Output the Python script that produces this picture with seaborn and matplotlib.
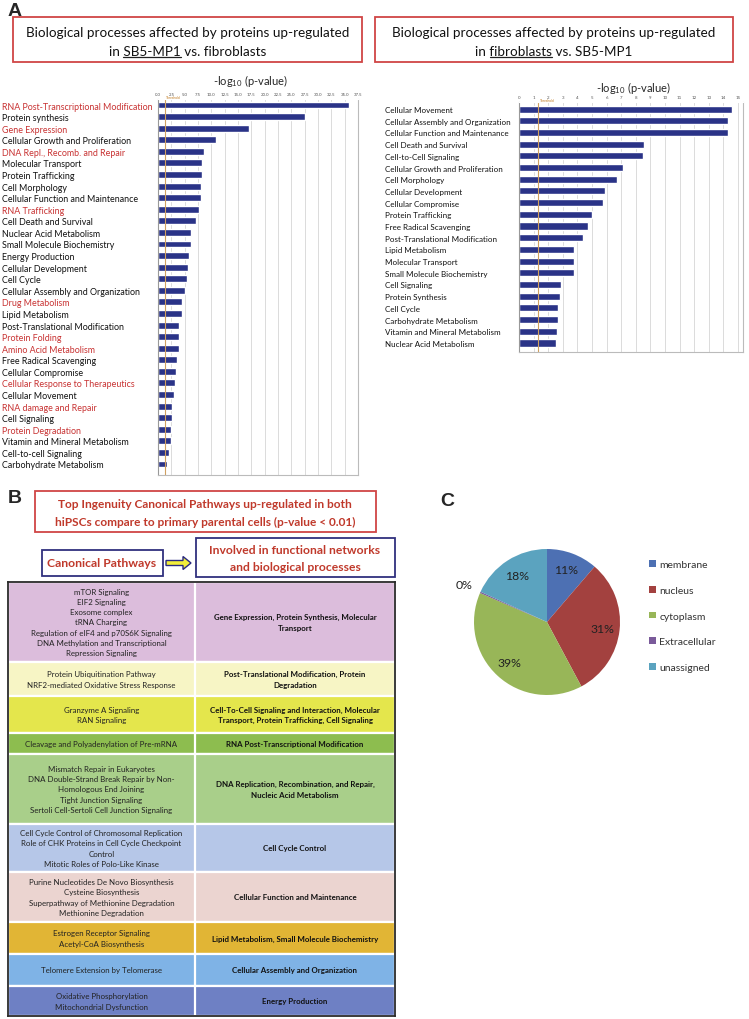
import matplotlib
matplotlib.use('Agg')
import matplotlib.pyplot as plt
import numpy as np
import pandas as pd
import seaborn as sns

# ---- data ----
up_cats = ["RNA Post-Transcriptional Modification", "Protein synthesis", "Gene Expression",
           "Cellular Growth and Proliferation", "DNA Repl., Recomb. and Repair", "Molecular Transport",
           "Protein Trafficking", "Cell Morphology", "Cellular Function and Maintenance", "RNA Trafficking",
           "Cell Death and Survival", "Nuclear Acid Metabolism", "Small Molecule Biochemistry",
           "Energy Production", "Cellular Development", "Cell Cycle", "Cellular Assembly and Organization",
           "Drug Metabolism", "Lipid Metabolism", "Post-Translational Modification", "Protein Folding",
           "Amino Acid Metabolism", "Free Radical Scavenging", "Cellular Compromise",
           "Cellular Response to Therapeutics", "Cellular Movement", "RNA damage and Repair",
           "Cell Signaling", "Protein Degradation", "Vitamin and Mineral Metabolism",
           "Cell-to-cell Signaling", "Carbohydrate Metabolism"]
up_vals = [35.75, 27.5, 17.1, 10.8, 8.7, 8.25, 8.25, 8.05, 8.05, 7.7, 7.1, 6.1, 6.1, 5.75, 5.6, 5.4,
           5.05, 4.45, 4.45, 3.95, 3.95, 3.9, 3.6, 3.3, 3.2, 2.95, 2.7, 2.55, 2.5, 2.5, 2.1, 1.75]
up_red = ["RNA Post-Transcriptional Modification", "Gene Expression", "DNA Repl., Recomb. and Repair",
          "RNA Trafficking", "Drug Metabolism", "Protein Folding", "Amino Acid Metabolism",
          "Cellular Response to Therapeutics", "RNA damage and Repair", "Protein Degradation"]

down_cats = ["Cellular Movement", "Cellular Assembly and Organization", "Cellular Function and Maintenance",
             "Cell Death and Survival", "Cell-to-Cell Signaling", "Cellular Growth and Proliferation",
             "Cell Morphology", "Cellular Development", "Cellular Compromise", "Protein Trafficking",
             "Free Radical Scavenging", "Post-Translational Modification", "Lipid Metabolism",
             "Molecular Transport", "Small Molecule Biochemistry", "Cell Signaling", "Protein Synthesis",
             "Cell Cycle", "Carbohydrate Metabolism", "Vitamin and Mineral Metabolism",
             "Nuclear Acid Metabolism"]
down_vals = [14.6, 14.3, 14.3, 8.55, 8.47, 7.15, 6.7, 5.9, 5.75, 5.0, 4.75, 4.36, 3.75, 3.75, 3.75,
             2.85, 2.8, 2.67, 2.65, 2.6, 2.56]

path_left = ["mTOR Signaling\nEIF2 Signaling\nExosome complex\ntRNA Charging\n"
             "Regulation of eIF4 and p70S6K Signaling\nDNA Methylation and Transcriptional\nRepression Signaling",
             "Protein Ubiquitination Pathway\nNRF2-mediated Oxidative Stress Response",
             "Granzyme A Signaling\nRAN Signaling",
             "Cleavage and Polyadenylation of Pre-mRNA",
             "Mismatch Repair in Eukaryotes\nDNA Double-Strand Break Repair by Non-\nHomologous End Joining\n"
             "Tight Junction Signaling\nSertoli Cell-Sertoli Cell Junction Signaling",
             "Cell Cycle Control of Chromosomal Replication\nRole of CHK Proteins in Cell Cycle Checkpoint\n"
             "Control\nMitotic Roles of Polo-Like Kinase",
             "Purine Nucleotides De Novo Biosynthesis\nCysteine Biosynthesis\n"
             "Superpathway of Methionine Degradation\nMethionine Degradation",
             "Estrogen Receptor Signaling\nAcetyl-CoA Biosynthesis",
             "Telomere Extension by Telomerase",
             "Oxidative Phosphorylation\nMitochondrial Dysfunction"]
path_right = ["Gene Expression, Protein Synthesis, Molecular\nTransport",
              "Post-Translational Modification, Protein\nDegradation",
              "Cell-To-Cell Signaling and Interaction, Molecular\nTransport, Protein Trafficking, Cell Signaling",
              "RNA Post-Transcriptional Modification",
              "DNA Replication, Recombination, and Repair,\nNucleic Acid Metabolism",
              "Cell Cycle Control",
              "Cellular Function and Maintenance",
              "Lipid Metabolism, Small Molecule Biochemistry",
              "Cellular Assembly and Organization",
              "Energy Production"]
row_colors = ["#dcbddc", "#f7f5c5", "#e4e64c", "#8dbd4f", "#a9cf8a",
              "#b6c7e8", "#ebd4d0", "#e1b535", "#7fb3e6", "#6e80c4"]

pie_labels = ["membrane", "nucleus", "cytoplasm", "Extracellular", "unassigned"]
pie_vals = [11.3, 30.9, 39.3, 0.3, 18.2]
pie_colors = ["#4d70b3", "#a3413f", "#98b658", "#7a5a9a", "#5ba3bf"]

# ---- style ----
sns.set_style("white")
plt.rcParams['font.family'] = ['Lato', 'DejaVu Sans']
plt.rcParams['mathtext.fontset'] = 'custom'
plt.rcParams['mathtext.rm'] = 'Lato'
plt.rcParams['mathtext.it'] = 'Lato:italic'

W, H = 749, 1020
NAVY = "#2a3387"
RED = "#c83232"
fig = plt.figure(figsize=(W / 100, H / 100), dpi=100)


def px_axes(x0, y0, x1, y1):
    return fig.add_axes([x0 / W, 1 - y1 / H, (x1 - x0) / W, (y1 - y0) / H])


# overlay in pixel coordinates for boxes / free text
ov = fig.add_axes([0, 0, 1, 1])
ov.set_xlim(0, W)
ov.set_ylim(H, 0)
ov.set_axis_off()
renderer = fig.canvas.get_renderer()


def text_w(s, **kw):
    t = ov.text(0, 0, s, **kw)
    w = t.get_window_extent(renderer).width
    t.remove()
    return w


def box(x0, y0, x1, y1, ec):
    ov.add_patch(plt.Rectangle((x0, y0), x1 - x0, y1 - y0, fill=False, ec=ec, lw=1.3))


def underlined(cx, y, full, word, **kw):
    ov.text(cx, y, full, ha='center', va='baseline', **kw)
    pre = full[:full.index(word)] + word
    left = cx - text_w(full, **kw) / 2
    x_end = left + text_w(pre, **kw)
    x_start = x_end - text_w(word, **kw)
    ov.plot([x_start, x_end], [y + 2.4, y + 2.4], color='#222', lw=0.9)


# panel letters
for s, x, y in [("A", 8, 3), ("B", 8, 490), ("C", 440, 493)]:
    ov.text(x, y, s, fontsize=14, fontweight='bold', family='Liberation Sans', va='top')

# ---- Panel A titles ----
tkw = dict(fontsize=9.75, color='#111')
box(13, 18, 362, 63, '#d04545')
ov.text(187.5, 37, "Biological processes affected by proteins up-regulated", ha='center', va='baseline', **tkw)
underlined(187.5, 56, "in SB5-MP1 vs. fibroblasts", "SB5-MP1", **tkw)
box(375, 18, 733, 63, '#d04545')
ov.text(554, 37, "Biological processes affected by proteins up-regulated", ha='center', va='baseline', **tkw)
underlined(554, 56, "in fibroblasts vs. SB5-MP1", "fibroblasts", **tkw)
ov.text(250, 81, r"-log$_{10}$ (p-value)", ha='center', va='center', fontsize=8)
ov.text(633, 88, r"-log$_{10}$ (p-value)", ha='center', va='center', fontsize=8)


def bar_panel(ax, cats, vals, ticks, fmt, xmax, ylim, pad, lsize, red=()):
    df = pd.DataFrame({"term": cats, "score": vals})
    sns.barplot(data=df, x="score", y="term", orient='h', color=NAVY, width=0.6,
                saturation=1, ax=ax)
    ax.set_xlim(0, xmax)
    ax.set_ylim(*ylim)
    ax.set_xlabel("")
    ax.set_ylabel("")
    ax.xaxis.tick_top()
    ax.set_xticks(ticks)
    ax.set_xticklabels([fmt.format(t) for t in ticks], fontsize=3.2, color='#555')
    ax.tick_params(axis='x', length=0, pad=2)
    ax.tick_params(axis='y', length=0, pad=pad, labelsize=lsize)
    for lbl in ax.get_yticklabels():
        lbl.set_ha('left')
        lbl.set_color(RED if lbl.get_text() in red else '#111')
    ax.grid(axis='x', color='#d6d6d6', lw=0.6)
    ax.set_axisbelow(True)
    for side, c in [('left', '#999999'), ('bottom', '#bbbbbb'), ('top', '#ffffff'), ('right', '#bbbbbb')]:
        ax.spines[side].set_color(c)
        ax.spines[side].set_linewidth(0.8)
    ax.axvline(1.3, color='#d0a060', lw=0.8, zorder=1)
    ax.text(1.45, 1.0, "Threshold", fontsize=2.4, color='#c07a20',
            transform=ax.get_xaxis_transform(), va='bottom')


axL = px_axes(158, 100, 358, 476)
bar_panel(axL, up_cats, up_vals, np.arange(0, 37.6, 2.5), "{:.1f}", 37.5, (31.95, -0.52), 112.3, 6.4, up_red)
axR = px_axes(519, 103, 743, 353)
bar_panel(axR, down_cats, down_vals, np.arange(0, 16), "{:.0f}", 15.34, (20.77, -0.6), 96.5, 5.75)

# ---- Panel B header ----
box(35, 492, 376, 533, '#d04545')
bkw = dict(fontsize=8.6, fontweight='bold', color='#c0392b', ha='center', va='center')
ov.text(205, 505, "Top Ingenuity Canonical Pathways up-regulated in both", **bkw)
ov.text(205, 522, "hiPSCs compare to primary parental cells (p-value < 0.01)", **bkw)
box(42, 551, 163, 577, '#30307e')
ov.text(102, 564, "Canonical Pathways", **dict(bkw, fontsize=8.8))
box(196, 539, 395, 578, '#30307e')
ov.text(295, 551, "Involved in functional networks", **dict(bkw, fontsize=8.7))
ov.text(295, 568, "and biological processes", **dict(bkw, fontsize=8.7))
ov.arrow(166, 564, 25, 0, width=5, head_width=13, head_length=8, length_includes_head=True,
         fc='#f2ee3a', ec='#2a2a80', lw=1)

# ---- Panel B table ----
row_h = [80, 34, 37, 21, 70, 48, 50, 32, 32, 30]
TW, SPLIT = 387, 187
axT = px_axes(8, 583, 8 + TW, 583 + sum(row_h))
centers = np.cumsum(row_h) - np.array(row_h) / 2
axT.barh(centers, TW, height=row_h, left=0, color=row_colors, edgecolor='white', linewidth=1.6)
axT.axvline(SPLIT, color='white', lw=1.6)
axT.set_xlim(0, TW)
axT.set_ylim(sum(row_h), 0)
axT.set_xticks([])
axT.set_yticks([])
for sp in axT.spines.values():
    sp.set_color('#2b2b2b')
    sp.set_linewidth(1.3)
for yc, l, r in zip(centers, path_left, path_right):
    axT.text(SPLIT / 2, yc, l, ha='center', va='center', fontsize=5.7, color='#222', linespacing=1.55)
    axT.text((SPLIT + TW) / 2, yc, r, ha='center', va='center', fontsize=5.7, color='#111',
             fontweight='bold', linespacing=1.55)

# ---- Panel C pie ----
R = 73
axP = px_axes(547 - 1.25 * R, 623 - 1.25 * R, 547 + 1.25 * R, 623 + 1.25 * R)
wedges, _, autotexts = axP.pie(pie_vals, colors=pie_colors, startangle=90, counterclock=False,
                               autopct=lambda p: f"{p:.0f}%", pctdistance=0.76,
                               wedgeprops=dict(linewidth=0),
                               textprops=dict(fontsize=8.8, color='#222'))
axP.set_xlim(-1.25, 1.25)
axP.set_ylim(-1.25, 1.25)
for w, t, v in zip(wedges, autotexts, pie_vals):
    if v < 1:
        ang = np.deg2rad((w.theta1 + w.theta2) / 2)
        t.set_position((1.25 * np.cos(ang), 1.25 * np.sin(ang)))
        t.set_ha('center')
fig.legend(wedges, pie_labels, loc='upper left', bbox_to_anchor=(640 / W, 1 - 552 / H),
           frameon=False, fontsize=7.5, handlelength=0.6, handleheight=0.6, handletextpad=0.35,
           labelspacing=1.6, labelcolor='#333')

fig.savefig("out.png", dpi=100)
